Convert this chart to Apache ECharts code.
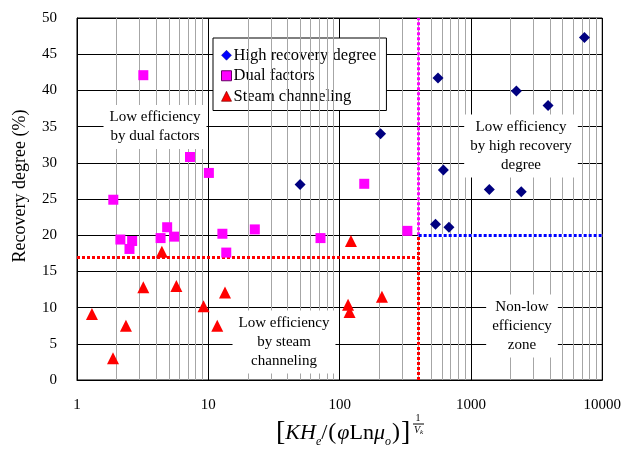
<!DOCTYPE html>
<html>
<head>
<meta charset="utf-8">
<script src="https://cdn.jsdelivr.net/npm/echarts@6/dist/echarts.min.js"></script>
<style>
  html, body { margin: 0; padding: 0; background: #fff; }
  #chart { width: 624px; height: 449px; }
</style>
</head>
<body>
<div id="chart"></div>
<script>
const FONT = "'Liberation Serif', 'Times New Roman', serif"

// high recovery degree (diamonds)
const highX = [50, 205, 561, 7314, 2218, 3866, 617, 1380, 2417, 537, 680]
const highY = [27.0, 34.0, 41.7, 47.3, 39.9, 37.9, 29.0, 26.3, 26.0, 21.5, 21.1]

// dual factors (squares)
const dualX = [3.2, 7.25, 10.1, 1.89, 4.86, 2.14, 2.63, 2.51, 4.33, 5.49, 12.8, 13.7, 22.6, 71.5, 154, 328]
const dualY = [42.1, 30.8, 28.6, 24.9, 21.1, 19.4, 19.2, 18.1, 19.6, 19.8, 20.2, 17.6, 20.8, 19.6, 27.1, 20.6]

// steam channeling (triangles)
const steamX = [1.30, 1.88, 2.36, 3.2, 4.43, 5.71, 9.2, 11.7, 13.4, 122, 116, 119, 210]
const steamY = [9.1, 3.0, 7.5, 12.8, 17.7, 13.0, 10.2, 7.5, 12.1, 19.2, 10.4, 9.4, 11.5]

// zone boundaries
const xSplit = 400
const steamLimit = 17
const recoveryLimit = 20
const xMin = 1
const xMax = 10000
const yMax = 50

// minor log grid lines
const minorX = [2, 3, 4, 5, 6, 7, 8, 9, 20, 30, 40, 50, 60, 70, 80, 90,
  200, 300, 400, 500, 600, 700, 800, 900, 2000, 3000, 4000, 5000, 6000, 7000, 8000, 9000]

const pairs = (xs, ys) => xs.map((x, i) => [x, ys[i]])

const chart = echarts.init(document.getElementById("chart"))

const zoneText = (text, x, y) => ({
  type: "text",
  x: x,
  y: y,
  z: 50,
  style: {
    text: text,
    font: "15px " + FONT,
    fill: "#000",
    align: "center",
    verticalAlign: "middle",
    lineHeight: 19,
    backgroundColor: "#fff",
    padding: [3, 6, 3, 6]
  }
})

const dotted = color => ({ color: color, width: 3, type: [3, 2] })

const option = {
  animation: false,
  grid: {
    left: 77,
    right: 18,
    top: 18,
    bottom: 69,
    show: true,
    borderColor: "#000",
    borderWidth: 1
  },
  xAxis: {
    type: "log",
    logBase: 10,
    min: xMin,
    max: xMax,
    axisLine: { lineStyle: { color: "#000", width: 1 } },
    axisTick: { show: false },
    axisLabel: {
      color: "#000",
      fontFamily: FONT,
      fontSize: 15,
      margin: 18,
      formatter: v => String(v)
    },
    splitLine: { lineStyle: { color: "#000", width: 1 } }
  },
  yAxis: {
    type: "value",
    min: 0,
    max: yMax,
    interval: 5,
    axisLine: { lineStyle: { color: "#000", width: 1 } },
    axisTick: { show: false },
    axisLabel: { color: "#000", fontFamily: FONT, fontSize: 15, margin: 20, padding: [6, 0, 0, 0] },
    splitLine: { lineStyle: { color: "#000", width: 1 } }
  },
  legend: {
    orient: "vertical",
    left: 213,
    top: 38,
    padding: [7, 10, 4, 8],
    itemGap: 0,
    itemWidth: 10,
    itemHeight: 10,
    backgroundColor: "#fff",
    borderColor: "#000",
    borderWidth: 1,
    textStyle: { color: "#000", fontFamily: FONT, fontSize: 16.5, lineHeight: 20.5, padding: [0, 0, 0, -3] },
    data: [
      { name: "High recovery degree", itemStyle: { color: "#0000ff", borderColor: "#000080", borderWidth: 0.5 } },
      { name: "Dual factors", itemStyle: { color: "#ff00ff", borderColor: "#660066", borderWidth: 1 } },
      { name: "Steam channeling", itemStyle: { color: "#ff0000", borderColor: "#800000", borderWidth: 0.7 } }
    ]
  },
  series: [
    {
      // minor grid and zone boundaries
      type: "scatter",
      data: [],
      silent: true,
      z: 1,
      markLine: {
        silent: true,
        symbol: "none",
        label: { show: false },
        animation: false,
        data: minorX.map(v => ({ xAxis: v, lineStyle: { color: "#a6a6a6", width: 1, type: "solid" } }))
          .concat([
            [{ coord: [xSplit, recoveryLimit], lineStyle: { color: "#fff", width: 3, type: "solid" } }, { coord: [xMax, recoveryLimit] }],
            [{ coord: [xMin, steamLimit], lineStyle: dotted("#ff0000") }, { coord: [xSplit, steamLimit] }],
            [{ coord: [xSplit, 0], lineStyle: dotted("#ff0000") }, { coord: [xSplit, recoveryLimit] }],
            [{ coord: [xSplit, recoveryLimit], lineStyle: dotted("#ff00ff") }, { coord: [xSplit, yMax] }],
            [{ coord: [xSplit, recoveryLimit], lineStyle: dotted("#0000ff") }, { coord: [xMax, recoveryLimit] }]
          ])
      }
    },
    {
      name: "High recovery degree",
      type: "scatter",
      symbol: "diamond",
      symbolSize: 11,
      z: 5,
      itemStyle: { color: "#000080", opacity: 1 },
      data: pairs(highX, highY)
    },
    {
      name: "Dual factors",
      type: "scatter",
      symbol: "rect",
      symbolSize: 10,
      z: 5,
      itemStyle: { color: "#ff00ff", opacity: 1 },
      data: pairs(dualX, dualY)
    },
    {
      name: "Steam channeling",
      type: "scatter",
      symbol: "triangle",
      symbolSize: 12,
      z: 5,
      itemStyle: { color: "#ff0000", opacity: 1 },
      data: pairs(steamX, steamY)
    }
  ],
  graphic: [
    zoneText("Low efficiency\nby dual factors", 155, 127),
    zoneText("Low efficiency\nby high recovery\ndegree", 521, 146),
    zoneText("Low efficiency\nby steam\nchanneling", 284, 342),
    zoneText("Non-low\nefficiency\nzone", 522, 326),
    {
      type: "text",
      x: 20,
      y: 186,
      rotation: Math.PI / 2,
      style: {
        text: "Recovery degree (%)",
        font: "18px " + FONT,
        fill: "#000",
        align: "center",
        verticalAlign: "middle"
      }
    },
    {
      type: "text",
      x: 276,
      y: 433,
      style: {
        text: "{b|[}{i|KH}{s|e}{n|/}{p|(}{i|φ}{n|Ln}{i|μ}{s|o}{p|)}{b|]}",
        verticalAlign: "middle",
        fill: "#000",
        rich: {
          b: { fontFamily: FONT, fontSize: 28, lineHeight: 30, verticalAlign: "middle" },
          p: { fontFamily: FONT, fontSize: 24, lineHeight: 30, verticalAlign: "middle", padding: [0, 1, 0, 1] },
          n: { fontFamily: FONT, fontSize: 22, lineHeight: 30, verticalAlign: "middle" },
          i: { fontFamily: FONT, fontSize: 22, fontStyle: "italic", lineHeight: 30, verticalAlign: "middle" },
          s: { fontFamily: FONT, fontSize: 12, fontStyle: "italic", lineHeight: 11, verticalAlign: "bottom" }
        }
      }
    },
    {
      type: "text",
      x: 418,
      y: 418,
      style: { text: "1", font: "10px " + FONT, fill: "#000", align: "center", verticalAlign: "middle" }
    },
    {
      type: "line",
      shape: { x1: 413, y1: 424, x2: 424, y2: 424 },
      style: { stroke: "#000", lineWidth: 1 }
    },
    {
      type: "text",
      x: 414,
      y: 430,
      style: {
        text: "{v|V}{k|k}",
        verticalAlign: "middle",
        fill: "#000",
        rich: {
          v: { fontFamily: FONT, fontSize: 10, fontStyle: "italic", lineHeight: 12, verticalAlign: "middle" },
          k: { fontFamily: FONT, fontSize: 7, fontStyle: "italic", lineHeight: 7, verticalAlign: "bottom" }
        }
      }
    }
  ]
}

chart.setOption(option)
</script>
</body>
</html>
